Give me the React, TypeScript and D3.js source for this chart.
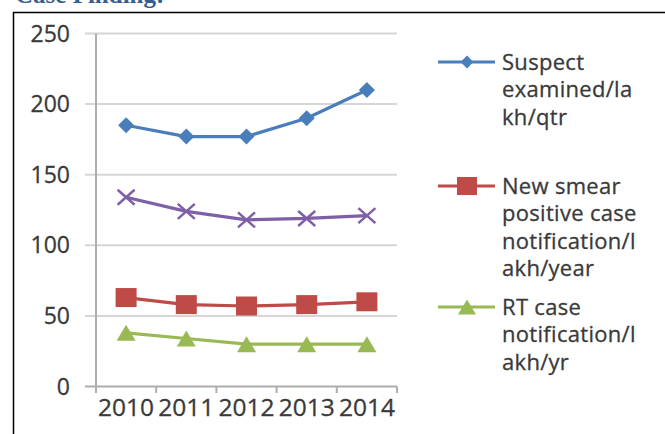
import React from "react";
import * as d3 from "d3";

const years = ["2010", "2011", "2012", "2013", "2014"];
const suspectExamined = [185, 177, 177, 190, 210];
const otherSeries = [134, 124, 118, 119, 121];
const newSmearPositive = [63, 58, 57, 58, 60];
const rtCase = [38, 34, 30, 30, 30];
const yTicks = [0, 50, 100, 150, 200, 250];

const legendSuspect = ["Suspect", "examined/la", "kh/qtr"];
const legendSmear = ["New smear", "positive case", "notification/l", "akh/year"];
const legendRT = ["RT case", "notification/l", "akh/yr"];

const W = 665;
const H = 434;
const FONT = "'Open Sans', sans-serif";
const TXT = "#3a3a3a";

type Marker = "diamond" | "square" | "triangle" | "x";

function MarkerShape({ type, x, y, color, s = 1 }: { type: Marker; x: number; y: number; color: string; s?: number }) {
  if (type === "diamond") {
    const w = 8 * s, h = 8 * s;
    return <path d={`M${x},${y - h}L${x + w},${y}L${x},${y + h}L${x - w},${y}Z`} fill={color} />;
  }
  if (type === "square") {
    const w = 10.5 * s, h = 9.5 * s;
    return <rect x={x - w} y={y - h} width={2 * w} height={2 * h} fill={color} />;
  }
  if (type === "triangle") {
    const w = 9.5 * s, h = 8 * s;
    return <path d={`M${x},${y - h}L${x + w},${y + h}L${x - w},${y + h}Z`} fill={color} />;
  }
  const w = 8.5 * s, h = 7.5 * s;
  return (
    <path d={`M${x - w},${y - h}L${x + w},${y + h}M${x - w},${y + h}L${x + w},${y - h}`} stroke={color} strokeWidth={2.5} fill="none" />
  );
}

export default function App() {
  const x = d3.scaleBand<string>().domain(years).range([96, 397]);
  const y = d3.scaleLinear().domain([0, 250]).range([386.5, 33.5]);
  const cx = (d: string) => (x(d) as number) + x.bandwidth() / 2;

  const series: { values: number[]; color: string; marker: Marker }[] = [
    { values: suspectExamined, color: "#4A7EBB", marker: "diamond" },
    { values: otherSeries, color: "#7F5FA8", marker: "x" },
    { values: newSmearPositive, color: "#BE4B48", marker: "square" },
    { values: rtCase, color: "#98B954", marker: "triangle" },
  ];

  const line = d3
    .line<number>()
    .x((_, i) => cx(years[i]))
    .y((v) => y(v));

  const legends: { lines: string[]; color: string; marker: Marker; y0: number }[] = [
    { lines: legendSuspect, color: "#4A7EBB", marker: "diamond", y0: 62 },
    { lines: legendSmear, color: "#BE4B48", marker: "square", y0: 186 },
    { lines: legendRT, color: "#98B954", marker: "triangle", y0: 307 },
  ];

  const xTickPositions = [...years.map((d) => x(d) as number), 397];

  return (
    <svg width={W} height={H} style={{ position: "absolute", left: 0, top: 0, background: "#fff" }}>
      <text x={15} y={3} fontFamily="'Liberation Serif', serif" fontWeight="bold" fontSize={25} fill="#365F91">
        Case Finding:
      </text>
      <path d={`M13.5,${H}V12.5H${W}`} stroke="#000" strokeWidth={1.5} fill="none" />

      {yTicks.map((t) => (
        <g key={t}>
          <line x1={85} x2={397} y1={y(t)} y2={y(t)} stroke={t === 0 ? "#ADADAD" : "#D6D6D6"} strokeWidth={2} />
          <text x={70} y={y(t)} dy="0.35em" textAnchor="end" fontFamily={FONT} fontSize={23} fill={TXT} stroke={TXT} strokeWidth={0.3}>
            {t}
          </text>
        </g>
      ))}
      <line x1={96} x2={96} y1={33.5} y2={386.5} stroke="#ADADAD" strokeWidth={2} />
      {xTickPositions.map((p, i) => (
        <line key={i} x1={p} x2={p} y1={386.5} y2={393} stroke="#ADADAD" strokeWidth={2} />
      ))}
      {years.map((d) => (
        <text key={d} x={cx(d)} y={416} textAnchor="middle" fontFamily={FONT} fontSize={24.5} fill={TXT} stroke={TXT} strokeWidth={0.3}>
          {d}
        </text>
      ))}

      {series.map((s, si) => (
        <g key={si}>
          <path d={line(s.values) as string} stroke={s.color} strokeWidth={3.2} fill="none" strokeLinejoin="round" />
          {s.values.map((v, i) => (
            <MarkerShape key={i} type={s.marker} x={cx(years[i])} y={y(v)} color={s.color} />
          ))}
        </g>
      ))}

      {legends.map((l, li) => (
        <g key={li}>
          <line x1={438} x2={495} y1={l.y0} y2={l.y0} stroke={l.color} strokeWidth={3} />
          <MarkerShape type={l.marker} x={467} y={l.y0} color={l.color} s={l.marker === "diamond" ? 0.8 : 0.95} />
          {l.lines.map((t, ti) => (
            <text key={ti} x={502} y={l.y0 + ti * 27.5} dy="0.35em" fontFamily={FONT} fontSize={22} letterSpacing={0.3} fill={TXT} stroke={TXT} strokeWidth={0.3}>
              {t}
            </text>
          ))}
        </g>
      ))}
    </svg>
  );
}
